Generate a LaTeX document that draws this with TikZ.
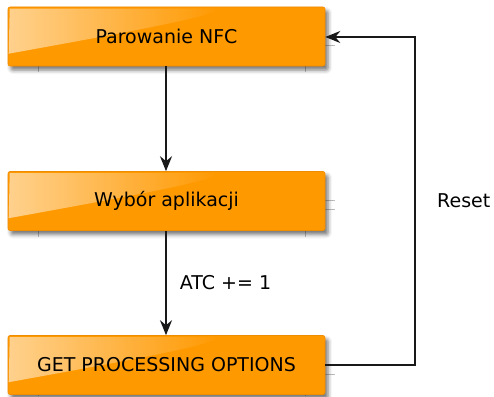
\documentclass[tikz,border=0pt]{standalone}
\usepackage{fontspec}
\setmainfont{DejaVu Sans}
\usetikzlibrary{shadows.blur,arrows.meta,fadings}
\definecolor{boxorange}{RGB}{255,153,0}
\definecolor{boxedge}{RGB}{240,140,0}
\tikzfading[name=glossfade, left color=transparent!15, right color=transparent!100]
\tikzset{
  x=1pt, y=-1pt,
  stepbox/.style={draw=boxedge, line width=0.6pt, fill=boxorange, rounded corners=2pt,
    minimum width=317pt, minimum height=59pt, inner sep=0pt,
    blur shadow={shadow xshift=3pt, shadow yshift=-4pt, shadow blur radius=4pt, shadow opacity=55},
    font=\fontsize{19}{23}\selectfont},
  flow/.style={line width=1.8pt, draw=black!90, -{Stealth[length=15pt,width=12pt,inset=5pt]}},
  faint/.style={draw=black!25, line width=0.6pt},
  lbl/.style={font=\fontsize{19}{23}\selectfont, inner sep=0pt}
}
\newcommand{\gloss}[1]{%
  % glossy highlight in the upper left corner of a box
  \fill[white, path fading=glossfade, fill opacity=0.65]
    ([xshift=2pt,yshift=-2pt]#1.north west) -- ([xshift=208pt,yshift=-2pt]#1.north west)
    .. controls ([xshift=212pt,yshift=-8pt]#1.north west) and ([xshift=150pt,yshift=-20pt]#1.north west)
    .. ([xshift=1pt,yshift=-47pt]#1.north west) -- cycle;
}
\begin{document}
\begin{tikzpicture}
\useasboundingbox (0,0) rectangle (494,396);

% background ticks behind the boxes
\draw[faint] (38,66) -- (38,72) (305,66) -- (305,72) (325,45) -- (335,45);
\draw[faint] (38,231) -- (38,237) (305,231) -- (305,237) (325,200) -- (335,200) (325,209) -- (335,209);
\draw[faint] (38,395) -- (38,396) (305,395) -- (305,396) (325,374) -- (335,374);

\node[stepbox] (nfc) at (166.5,36.5) {};
\gloss{nfc}
\node[lbl] at (nfc) {Parowanie NFC};

\node[stepbox] (app) at (166.5,201) {};
\gloss{app}
\node[lbl] at (app) {Wybór aplikacji};

\node[stepbox] (gpo) at (166.5,365) {};
\gloss{gpo}
\node[lbl] at (gpo) {GET PROCESSING OPTIONS};

\coordinate (rt) at (415,37);
\coordinate (rb) at (415,365);

\draw[flow] ([xshift=-0.5pt]nfc.south) -- ([xshift=-0.5pt]app.north);
\draw[flow] ([xshift=-0.5pt]app.south) -- node[lbl, right=13pt] {ATC += 1} ([xshift=-0.5pt]gpo.north);
\draw[flow] (gpo.east) -- (rb) -- (rt) -- (nfc.east |- rt);

\node[lbl, anchor=west] (reset) at (437,201) {Reset};
\end{tikzpicture}
\end{document}
